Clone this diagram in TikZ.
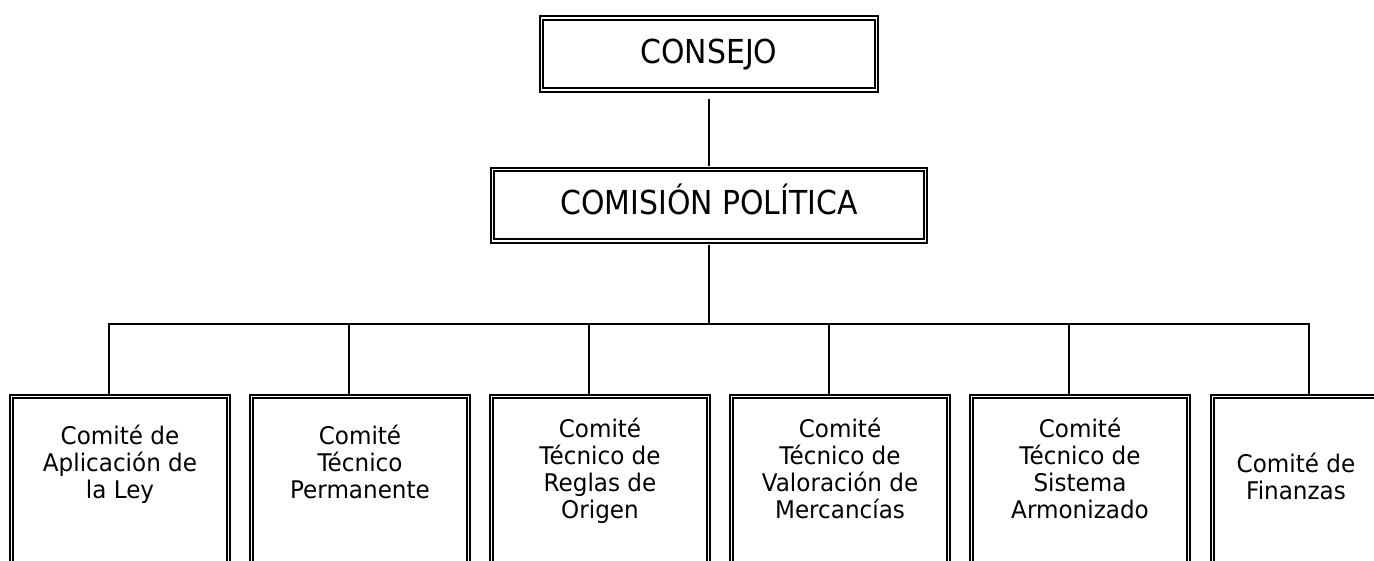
\documentclass[tikz,border=0pt]{standalone}
\usepackage{fontspec}
\setmainfont{DejaVu Sans}
\newfontfamily\topfont[FakeStretch=0.905]{DejaVu Sans}
\newfontfamily\botfont[FakeStretch=0.95]{DejaVu Sans}
\begin{document}
\begin{tikzpicture}[x=1pt,y=-1pt,
  frame/.style={draw, line width=2pt, double=white, double distance=1.8pt, inner sep=0pt},
  topbox/.style={frame, font=\topfont\fontsize{33}{36}\selectfont, text height=19pt, text depth=0pt},
  conn/.style={line width=1.8pt},
  bottext/.style={font=\botfont\fontsize{24.3}{27}\selectfont, align=center, inner sep=0pt, anchor=base}]
\useasboundingbox (0,0) rectangle (1374,560);
\clip (0,0) rectangle (1374,560);

\node[topbox, minimum width=335pt, minimum height=72.5pt] (consejo) at (709,54) {CONSEJO};
\node[topbox, minimum width=433pt, minimum height=71.75pt] (comision) at (709,205.4) {COMISIÓN POLÍTICA};

\foreach \i/\x in {1/120,2/360,3/600,4/840,5/1080}
  \node[frame, minimum width=217pt, minimum height=200pt] (c\i) at (\x,496.5) {};
\node[frame, minimum width=167pt, minimum height=200pt] (c6) at (1296,496.5) {};

% base anchor of a multi-line node is the baseline of its last line
\node[bottext] (t1) at (120,498) {Comité de\\Aplicación de\\la Ley};
\node[bottext] (t2) at (360,498) {Comité\\Técnico\\Permanente};
\node[bottext] (t3) at (600,518) {Comité\\Técnico de\\Reglas de\\Origen};
\node[bottext] (t4) at (840,518) {Comité\\Técnico de\\Valoración de\\Mercancías};
\node[bottext] (t5) at (1080,518) {Comité\\Técnico de\\Sistema\\Armonizado};
\node[bottext] (t6) at (1296,499.5) {Comité de\\Finanzas};

\coordinate (bar) at (709,324);
\draw[conn, shorten <=7.75pt, shorten >=2.9pt] (consejo.south) -- (comision.north);
\draw[conn, shorten <=2.9pt] (comision.south) -- (bar);
\foreach \i in {1,...,5}
  \draw[conn] ([xshift=-11pt]c\i.north) |- (bar);
\draw[conn] ([xshift=13pt]c6.north) |- (bar);
\end{tikzpicture}
\end{document}
